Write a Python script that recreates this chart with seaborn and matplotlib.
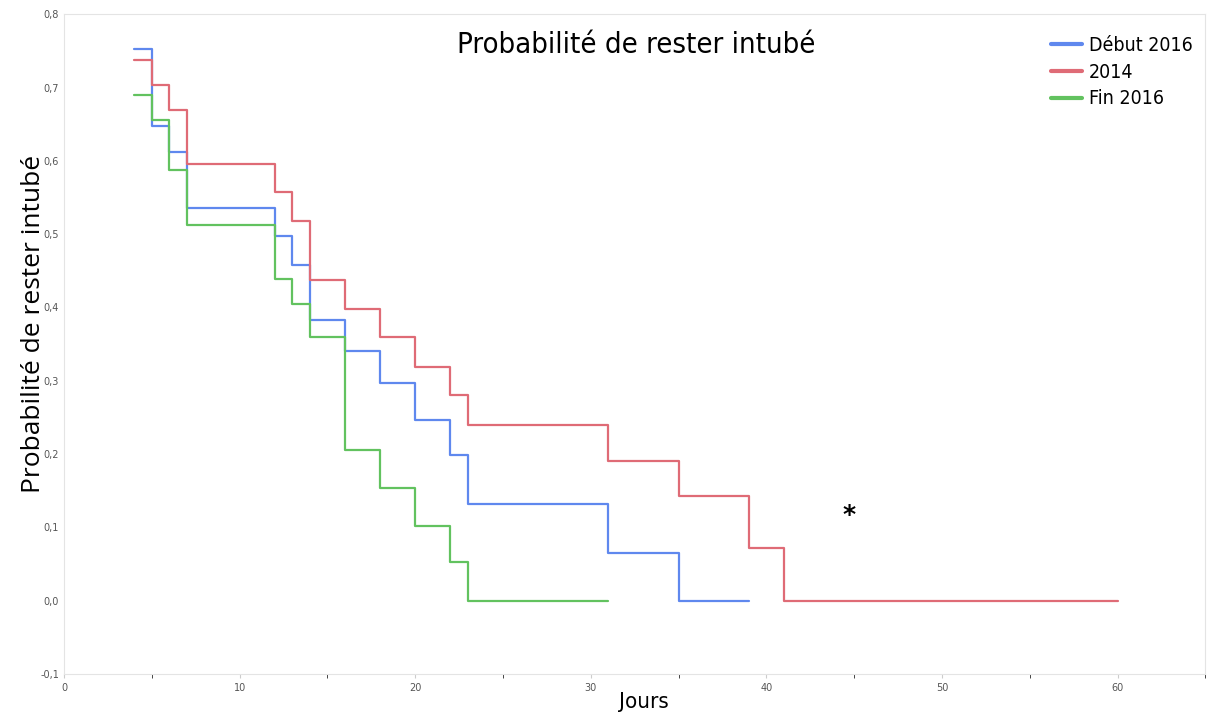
import matplotlib
matplotlib.use("Agg")
import matplotlib.pyplot as plt
import seaborn as sns
import pandas as pd
from matplotlib.ticker import FuncFormatter, MultipleLocator

# Kaplan-Meier style curves (step values, post)
debut_t = [4, 5, 6, 7, 12, 13, 14, 16, 18, 20, 22, 23, 31, 35, 39]
debut_p = [0.752, 0.648, 0.612, 0.536, 0.497, 0.458, 0.383, 0.340, 0.297,
           0.247, 0.198, 0.132, 0.065, 0.0, 0.0]

an2014_t = [4, 5, 6, 7, 12, 13, 14, 16, 18, 20, 22, 23, 31, 35, 39, 41, 60]
an2014_p = [0.737, 0.703, 0.670, 0.595, 0.558, 0.518, 0.438, 0.398, 0.359,
            0.319, 0.280, 0.239, 0.191, 0.143, 0.072, 0.0, 0.0]

fin_t = [4, 5, 6, 7, 12, 13, 14, 16, 18, 20, 22, 23, 31]
fin_p = [0.690, 0.656, 0.587, 0.513, 0.439, 0.404, 0.359, 0.205, 0.153,
         0.102, 0.052, 0.0, 0.0]

labels = ["Début 2016", "2014", "Fin 2016"]
colors = ["#5f88ee", "#df6b76", "#62c25f"]

sns.set_style("white")
narrow = dict(family="DejaVu Sans", stretch="condensed")

frames = []
for lab, t, p in zip(labels, [debut_t, an2014_t, fin_t], [debut_p, an2014_p, fin_p]):
    frames.append(pd.DataFrame({"Jours": t, "prob": p, "groupe": lab}))
df = pd.concat(frames, ignore_index=True)

fig = plt.figure(figsize=(12.09, 7.13), dpi=100)
ax = fig.add_axes([0.053, 0.055, 0.944, 0.925])

sns.lineplot(data=df, x="Jours", y="prob", hue="groupe", hue_order=labels,
             palette=colors, drawstyle="steps-post", linewidth=1.6,
             estimator=None, sort=False, ax=ax, legend=False)

ax.set_xlim(0, 65)
ax.set_ylim(-0.1, 0.8)
ax.xaxis.set_major_locator(MultipleLocator(10))
ax.xaxis.set_minor_locator(MultipleLocator(5))
ax.yaxis.set_major_locator(MultipleLocator(0.1))
ax.yaxis.set_major_formatter(FuncFormatter(lambda v, _: f"{v:.1f}".replace(".", ",")))
ax.tick_params(axis="both", labelsize=7, labelcolor="#555555", colors="#cccccc")
ax.tick_params(axis="x", which="both", length=3, bottom=True)
ax.tick_params(axis="y", length=0)
for s in ax.spines.values():
    s.set_color("#e4e4e4")
    s.set_linewidth(0.8)

ax.set_xlabel("Jours", fontsize=16, color="black", **narrow)
ax.xaxis.set_label_coords(0.508, -0.028)
ax.set_ylabel("Probabilité de rester intubé", fontsize=19, color="black",
              family=["Open Sans", "DejaVu Sans"])
ax.yaxis.set_label_coords(-0.016, 0.53)

fig.text(0.526, 0.925, "Probabilité de rester intubé", fontsize=21, color="black",
         ha="center", **narrow)
ax.text(44.7, 0.117, "*", fontsize=18, fontweight="bold", color="black",
        ha="center", va="center")

handles = [plt.Line2D([], [], color=c, lw=3) for c in colors]
leg = ax.legend(handles, labels, loc="upper right", bbox_to_anchor=(0.999, 0.985),
                frameon=False, prop=dict(size=14, **narrow), handlelength=1.6,
                handletextpad=0.35, labelspacing=0.4, borderaxespad=0.2)
for t in leg.get_texts():
    t.set_color("black")

fig.savefig("out.png", dpi=100)
